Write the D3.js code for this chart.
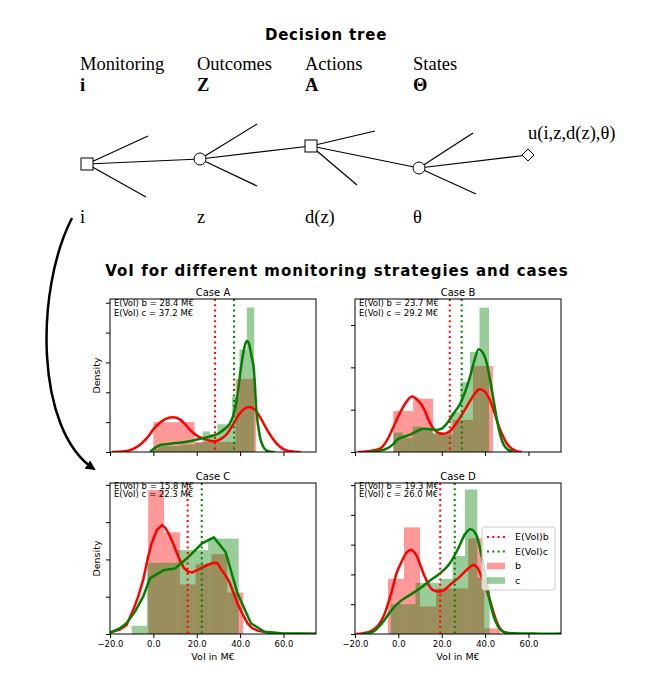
<!DOCTYPE html>
<html>
<head>
<meta charset="utf-8">
<script src="https://cdn.jsdelivr.net/npm/d3@7"></script>
<style>
  body { margin: 0; background: #fff; }
  svg { display: block; }
</style>
</head>
<body>
<svg id="chart"></svg>
<script>
// ---------- decision tree texts ----------
const stageLabels = ["Monitoring", "Outcomes", "Actions", "States"];
const stageSymbols = ["i", "Z", "A", "Θ"];
const stageValues = ["i", "z", "d(z)", "θ"];
const utilityLabel = "u(i,z,d(z),θ)";

// ---------- chart data ----------
const cases = ["Case A", "Case B", "Case C", "Case D"];
const expectedB = [28.4, 23.7, 15.8, 19.3];   // E(VoI) b in M€
const expectedC = [37.2, 29.2, 22.3, 26.0];   // E(VoI) c in M€

const xTicks = [-20, 0, 20, 40, 60];
const yTicks = [
  [0, 0.02, 0.04, 0.06, 0.08, 0.10],
  [0, 0.02, 0.04, 0.06],
  [0, 0.01, 0.02, 0.03, 0.04],
  [0, 0.01, 0.02, 0.03, 0.04, 0.05]
];

// histogram bin edges and densities, strategy b
const bEdges = [
  [0, 9.5, 19, 28.4, 37.9, 47.4],
  [-2.4, 6.8, 16, 25.2, 34.4, 43.6],
  [-2.4, 4.9, 12.2, 19.5, 26.8, 34.1, 41.4],
  [-4.8, 2.6, 10, 17.4, 24.8, 32.2, 39.6, 47]
];
const bDensity = [
  [0.02, 0.02, 0.0068, 0.0068, 0.049],
  [0.0194, 0.0252, 0.0084, 0.0152, 0.0406],
  [0.0386, 0.0273, 0.0133, 0.0187, 0.0214, 0.0111],
  [0.0185, 0.0358, 0.0092, 0.0153, 0.0153, 0.0321, 0.0019]
];

// histogram bin edges and densities, strategy c
const cEdges = [
  [-1.1, 2.3, 5.7, 9.1, 12.5, 15.9, 19.3, 22.7, 26.1, 29.5, 32.9, 36.3, 39.7, 43.1, 46.5],
  [-2.2, 2.2, 6.6, 11, 15.4, 19.8, 24.2, 28.6, 33, 37.4, 41.8],
  [-10, -2.95, 4.1, 11.15, 18.2, 25.25, 32.3, 39.35],
  [-3.5, 2.2, 7.9, 13.6, 19.3, 25, 30.7, 36.4, 42.1]
];
const cDensity = [
  [0.002, 0.004, 0.004, 0.004, 0.005, 0.005, 0.006, 0.0138, 0.012, 0.0186, 0.0186, 0.0368, 0.0686, 0.0968],
  [0.0092, 0.0066, 0.012, 0.011, 0.009, 0.009, 0.0188, 0.033, 0.0472, 0.0682],
  [0.0022, 0.0191, 0.0191, 0.0225, 0.0225, 0.0256, 0.0256],
  [0.01, 0.01, 0.0172, 0.0172, 0.0185, 0.0262, 0.0485, 0.019]
];

// kernel density curves [VoI, density]
const bKde = [
  [[-19,0],[-14,0.0004],[-10,0.0016],[-6,0.005],[-2,0.011],[0,0.0152],[3,0.0196],[6,0.0224],[9.2,0.0232],[12,0.022],[15,0.018],[17,0.0146],[20,0.011],[23,0.009],[26,0.0076],[28,0.0072],[31,0.0086],[34,0.0122],[37,0.019],[39,0.024],[41.5,0.0284],[44.2,0.0302],[47,0.028],[49.6,0.0224],[52,0.016],[55,0.009],[58,0.004],[61,0.0012],[65,0.0002],[68,0]],
  [[-18.5,0],[-14,0.0004],[-8.5,0.0016],[-5,0.006],[-2.3,0.0118],[0.5,0.018],[3.1,0.0228],[6.3,0.0262],[9,0.0244],[11.5,0.021],[14,0.015],[16,0.0112],[18.5,0.009],[21,0.0086],[23.8,0.01],[27,0.014],[30,0.0188],[33,0.024],[35.5,0.028],[37.5,0.0296],[40,0.0284],[42,0.025],[44,0.0196],[46,0.0132],[48,0.008],[50,0.004],[52,0.0018],[54.6,0.0004],[57,0]],
  [[-20,0.0004],[-15.5,0.0012],[-12.4,0.0024],[-9.3,0.0064],[-7,0.01],[-4.7,0.0145],[-2.5,0.0205],[-0.8,0.0243],[1.6,0.0279],[4,0.0292],[5.5,0.0285],[7,0.027],[9,0.0245],[10.9,0.0216],[12.5,0.0195],[14,0.0178],[16,0.0167],[18,0.0165],[20.2,0.0171],[22.5,0.0178],[24.8,0.0185],[27.9,0.0191],[29.5,0.019],[31,0.0176],[33,0.016],[35,0.014],[37,0.011],[38.8,0.0082],[41,0.0055],[43.4,0.0029],[45.5,0.0016],[48,0.0009],[52.7,0.0004],[58.9,0.0001],[75,0]],
  [[-19.4,0],[-13.2,0.0008],[-8.6,0.0036],[-6.5,0.0065],[-4.7,0.0103],[-2.8,0.015],[-0.9,0.0203],[1,0.0235],[3,0.0265],[5.6,0.0282],[8.3,0.0265],[10.2,0.023],[12.2,0.0192],[14,0.0165],[16,0.0147],[19.1,0.0142],[21.5,0.015],[23.7,0.0164],[26,0.0178],[28.3,0.0192],[30.5,0.0208],[32.2,0.022],[34.5,0.0232],[36.5,0.0222],[38.3,0.0193],[40.6,0.015],[42.2,0.0114],[44,0.007],[45.3,0.0042],[47,0.0018],[49,0.0005],[52,0.0001],[56,0]]
];
const cKde = [
  [[-1.5,0],[0,0.002],[2,0.004],[4,0.005],[7,0.0054],[10,0.006],[14,0.0066],[18,0.0076],[22,0.009],[26,0.0104],[30,0.0124],[33,0.0156],[35.5,0.0196],[37.5,0.028],[38.8,0.038],[40,0.052],[41.2,0.064],[42.3,0.072],[43.2,0.0744],[44.2,0.072],[45.3,0.064],[46.3,0.056],[47.5,0.028],[49,0.011],[50.5,0.004],[52,0.0012],[54,0.0002],[56,0]],
  [[-14.6,0],[-10,0.0004],[-5.4,0.0016],[-2.5,0.0036],[-0.8,0.0056],[2,0.007],[5.4,0.0082],[8.5,0.0098],[11.5,0.011],[14.5,0.0108],[17.7,0.0104],[20,0.011],[22.3,0.0134],[25.5,0.0182],[28.5,0.0228],[31,0.029],[33,0.0354],[35,0.043],[37,0.0486],[38.5,0.0476],[40.8,0.0418],[42.3,0.034],[44,0.024],[45.5,0.015],[47,0.008],[48.5,0.0036],[50,0.0016],[53,0]],
  [[-20,0.0004],[-15.5,0.0015],[-12.4,0.0029],[-8.5,0.006],[-4.7,0.01],[-1.6,0.0149],[4.7,0.0171],[10.1,0.0176],[15.5,0.0203],[22.5,0.0243],[27.9,0.0259],[33.3,0.022],[38.8,0.0109],[45,0.0029],[51.2,0.0006],[58.9,0.0002],[75,0.0001]],
  [[-16.3,0],[-11.6,0.0008],[-7,0.0041],[-3.2,0.008],[0.6,0.0108],[5.3,0.0131],[9.9,0.0153],[14.5,0.0179],[19.1,0.0203],[23.7,0.0237],[27.6,0.0287],[30.7,0.0335],[33.3,0.0352],[36,0.0332],[38.3,0.0265],[40.6,0.0175],[42.2,0.011],[44,0.0058],[46,0.0025],[48,0.0009],[50,0.0004],[55,0.0002],[60,0.0002],[65,0.0001],[75,0.0002]]
];

// ---------- layout ----------
const W = 653, H = 699;
const xDomain = [-20, 75];
const panels = [
  { left: 110, right: 316, top: 299, bottom: 452, yMax: 0.1025, ann: [7.4, 17.2], curve: d3.curveMonotoneX, bottomRow: false, first: true },
  { left: 355, right: 561, top: 299, bottom: 452, yMax: 0.0723, ann: [7.4, 17.2], curve: d3.curveMonotoneX, bottomRow: false, first: false },
  { left: 110, right: 316, top: 483, bottom: 634, yMax: 0.0405, ann: [5.6, 14.4], curve: d3.curveLinear, bottomRow: true, first: true },
  { left: 355, right: 561, top: 483, bottom: 634, yMax: 0.0507, ann: [5.6, 14.4], curve: d3.curveMonotoneX, bottomRow: true, first: false }
];
const redColor = "#ff0000", greenColor = "#008000";
const sans = "DejaVu Sans, sans-serif";
const serif = "Liberation Serif, Times New Roman, serif";

const svg = d3.select("#chart").attr("width", W).attr("height", H);
const defs = svg.append("defs");

// ---------- decision tree ----------
svg.append("text")
  .attr("x", 326).attr("y", 40)
  .attr("text-anchor", "middle")
  .attr("font-family", sans).attr("font-weight", "bold")
  .attr("font-size", 15).attr("letter-spacing", 0.8)
  .text("Decision tree");

const labelX = [80, 197, 305, 413];
const tree = svg.append("g").attr("font-family", serif).attr("font-size", 18.5).attr("fill", "#000");
tree.selectAll(".stage").data(stageLabels).enter().append("text")
  .attr("x", (d, i) => labelX[i]).attr("y", 70).text(d => d);
tree.selectAll(".symbol").data(stageSymbols).enter().append("text")
  .attr("x", (d, i) => labelX[i]).attr("y", 91).attr("font-weight", "bold").text(d => d);
tree.selectAll(".value").data(stageValues).enter().append("text")
  .attr("x", (d, i) => labelX[i]).attr("y", 223).text(d => d);
tree.append("text").attr("x", 528).attr("y", 139).text(utilityLabel);

const treeNodes = [
  { shape: "square", x: 87, y: 164 },
  { shape: "circle", x: 200, y: 159 },
  { shape: "square", x: 311, y: 146 },
  { shape: "circle", x: 419, y: 168 },
  { shape: "diamond", x: 528, y: 155 }
];
const treeStubs = [
  { from: 0, x: 148, y: 136 }, { from: 0, x: 146, y: 197 },
  { from: 1, x: 257, y: 124 }, { from: 1, x: 257, y: 186 },
  { from: 2, x: 375, y: 131 }, { from: 2, x: 357, y: 185 },
  { from: 3, x: 473, y: 133 }, { from: 3, x: 476, y: 194 }
];
const treeLines = svg.append("g").attr("stroke", "#000").attr("stroke-width", 1.2);
treeNodes.slice(1).forEach((n, i) => {
  treeLines.append("line")
    .attr("x1", treeNodes[i].x).attr("y1", treeNodes[i].y)
    .attr("x2", n.x).attr("y2", n.y);
});
treeStubs.forEach(s => {
  treeLines.append("line")
    .attr("x1", treeNodes[s.from].x).attr("y1", treeNodes[s.from].y)
    .attr("x2", s.x).attr("y2", s.y);
});
const nodeG = svg.append("g").attr("fill", "#fff").attr("stroke", "#000").attr("stroke-width", 1);
treeNodes.forEach(n => {
  if (n.shape === "square") {
    nodeG.append("rect").attr("x", n.x - 6).attr("y", n.y - 6).attr("width", 12).attr("height", 12);
  } else if (n.shape === "circle") {
    nodeG.append("circle").attr("cx", n.x).attr("cy", n.y).attr("r", 6);
  } else {
    nodeG.append("path").attr("d", `M${n.x - 6},${n.y} L${n.x},${n.y - 6} L${n.x + 6},${n.y} L${n.x},${n.y + 6} Z`);
  }
});

// curved arrow from the monitoring choice down to the plots
defs.append("marker")
  .attr("id", "arrowHead")
  .attr("viewBox", "0 0 10 10")
  .attr("refX", 8).attr("refY", 5)
  .attr("markerWidth", 4).attr("markerHeight", 4)
  .attr("markerUnits", "strokeWidth")
  .attr("orient", "auto")
  .append("path").attr("d", "M0,0 L10,5 L0,10 Z").attr("fill", "#000");
svg.append("path")
  .attr("d", "M72,218 C35,290 35,430 94,469")
  .attr("fill", "none").attr("stroke", "#000").attr("stroke-width", 2.5)
  .attr("marker-end", "url(#arrowHead)");

// ---------- VoI panels ----------
svg.append("text")
  .attr("x", 337).attr("y", 276)
  .attr("text-anchor", "middle")
  .attr("font-family", sans).attr("font-weight", "bold")
  .attr("font-size", 15).attr("letter-spacing", 1)
  .text("VoI for different monitoring strategies and cases");

const fmt = d3.format(".1f");

panels.forEach((p, i) => {
  const x = d3.scaleLinear().domain(xDomain).range([p.left, p.right]);
  const y = d3.scaleLinear().domain([0, p.yMax]).range([p.bottom, p.top]);
  const g = svg.append("g").attr("font-family", sans);

  defs.append("clipPath").attr("id", "clip" + i)
    .append("rect").attr("x", p.left).attr("y", p.top)
    .attr("width", p.right - p.left).attr("height", p.bottom - p.top);
  const plot = g.append("g").attr("clip-path", `url(#clip${i})`);

  // histograms
  const drawHist = (edges, dens, color) => {
    plot.append("g").selectAll("rect").data(dens).enter().append("rect")
      .attr("x", (d, k) => x(edges[k]))
      .attr("width", (d, k) => x(edges[k + 1]) - x(edges[k]))
      .attr("y", d => y(d))
      .attr("height", d => y(0) - y(d))
      .attr("fill", color).attr("fill-opacity", 0.4);
  };
  drawHist(bEdges[i], bDensity[i], redColor);
  drawHist(cEdges[i], cDensity[i], greenColor);

  // density curves
  const line = d3.line().x(d => x(d[0])).y(d => y(d[1])).curve(p.curve);
  plot.append("path").datum(bKde[i]).attr("d", line)
    .attr("fill", "none").attr("stroke", redColor).attr("stroke-width", 2.5);
  plot.append("path").datum(cKde[i]).attr("d", line)
    .attr("fill", "none").attr("stroke", greenColor).attr("stroke-width", 2.5);

  // expected VoI lines
  [[expectedB[i], redColor], [expectedC[i], greenColor]].forEach(([v, c]) => {
    plot.append("line")
      .attr("x1", x(v)).attr("x2", x(v))
      .attr("y1", p.top).attr("y2", p.bottom)
      .attr("stroke", c).attr("stroke-width", 2)
      .attr("stroke-dasharray", "2,3.3");
  });

  // axes
  const xAxis = d3.axisBottom(x).tickValues(xTicks).tickSize(4).tickPadding(2.5)
    .tickFormat(p.bottomRow ? fmt : "");
  g.append("g").attr("transform", `translate(0,${p.bottom})`).call(xAxis)
    .call(a => a.select(".domain").remove())
    .call(a => a.selectAll("line").attr("stroke", "#000"))
    .call(a => a.selectAll("text").attr("font-family", sans).attr("font-size", 8.5).attr("fill", "#000"));
  const yAxis = d3.axisLeft(y).tickValues(yTicks[i]).tickSize(4).tickFormat("");
  g.append("g").attr("transform", `translate(${p.left},0)`).call(yAxis)
    .call(a => a.select(".domain").remove())
    .call(a => a.selectAll("line").attr("stroke", "#000"));

  // frame
  g.append("rect")
    .attr("x", p.left).attr("y", p.top)
    .attr("width", p.right - p.left).attr("height", p.bottom - p.top)
    .attr("fill", "none").attr("stroke", "#000").attr("stroke-width", 1);

  // title
  g.append("text")
    .attr("x", (p.left + p.right) / 2).attr("y", p.top - 3)
    .attr("text-anchor", "middle").attr("font-size", 10)
    .text(cases[i]);

  // annotations
  g.append("text").attr("x", p.left + 4).attr("y", p.top + p.ann[0])
    .attr("font-size", 8.5).text(`E(VoI) b = ${fmt(expectedB[i])} M€`);
  g.append("text").attr("x", p.left + 4).attr("y", p.top + p.ann[1])
    .attr("font-size", 8.5).text(`E(VoI) c = ${fmt(expectedC[i])} M€`);

  if (p.first) {
    g.append("text")
      .attr("transform", `translate(99.6,${(p.top + p.bottom) / 2}) rotate(-90)`)
      .attr("text-anchor", "middle").attr("font-size", 9.5)
      .text("Density");
  }
  if (p.bottomRow) {
    g.append("text")
      .attr("x", (p.left + p.right) / 2).attr("y", 660)
      .attr("text-anchor", "middle").attr("font-size", 9.5)
      .text("VoI in M€");
  }

  // legend in the last panel
  if (i === 3) {
    const lg = g.append("g").attr("transform", "translate(482,527)");
    lg.append("rect").attr("width", 73).attr("height", 63).attr("rx", 2)
      .attr("fill", "#fff").attr("fill-opacity", 0.8)
      .attr("stroke", "#cccccc").attr("stroke-width", 1);
    const items = [
      { label: "E(VoI)b", color: redColor, kind: "line" },
      { label: "E(VoI)c", color: greenColor, kind: "line" },
      { label: "b", color: redColor, kind: "patch" },
      { label: "c", color: greenColor, kind: "patch" }
    ];
    items.forEach((it, k) => {
      const cy = 10 + k * 14.5;
      if (it.kind === "line") {
        lg.append("line").attr("x1", 5).attr("x2", 23).attr("y1", cy).attr("y2", cy)
          .attr("stroke", it.color).attr("stroke-width", 2).attr("stroke-dasharray", "2,3.3");
      } else {
        lg.append("rect").attr("x", 5).attr("y", cy - 3.3).attr("width", 18).attr("height", 6.6)
          .attr("fill", it.color).attr("fill-opacity", 0.4);
      }
      lg.append("text").attr("x", 33).attr("y", cy + 3.4)
        .attr("font-size", 9.5).text(it.label);
    });
  }
});
</script>
</body>
</html>
